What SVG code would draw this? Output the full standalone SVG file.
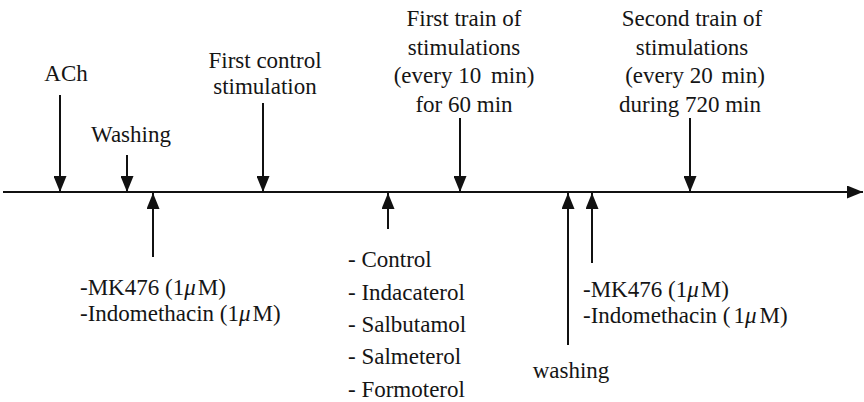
<svg xmlns="http://www.w3.org/2000/svg" width="864" height="402" viewBox="0 0 864 402">
  <style>
    text { font-family: "Liberation Serif", "Times New Roman", serif; font-size: 23px; fill: #151515; }
    .c { text-anchor: middle; }
    .mu { font-style: italic; }
    .ln { stroke: #111; stroke-width: 2; fill: none; }
  </style>
  <defs>
    <marker id="ah" markerUnits="userSpaceOnUse" markerWidth="16" markerHeight="13" refX="16" refY="6.5" orient="auto">
      <path d="M0,0 L16,6.5 L0,13 Z" fill="#111"/>
    </marker>
  </defs>
  <rect width="864" height="402" fill="#fff"/>

  <g id="connectors">
    <line id="axis" class="ln" x1="3" y1="192" x2="863" y2="192" marker-end="url(#ah)"/>
    <line class="ln" x1="60" y1="95" x2="60" y2="192" marker-end="url(#ah)"/>
    <line class="ln" x1="127" y1="155" x2="127" y2="192" marker-end="url(#ah)"/>
    <line class="ln" x1="263" y1="103" x2="263" y2="192" marker-end="url(#ah)"/>
    <line class="ln" x1="460" y1="118" x2="460" y2="192" marker-end="url(#ah)"/>
    <line class="ln" x1="690" y1="118" x2="690" y2="192" marker-end="url(#ah)"/>
    <line class="ln" x1="153" y1="257" x2="153" y2="193" marker-end="url(#ah)"/>
    <line class="ln" x1="388" y1="229" x2="388" y2="193" marker-end="url(#ah)"/>
    <line class="ln" x1="568" y1="345" x2="568" y2="193" marker-end="url(#ah)"/>
    <line class="ln" x1="592" y1="263" x2="592" y2="193" marker-end="url(#ah)"/>
  </g>

  <g id="ach">
    <text class="c" x="66" y="81">ACh</text>
  </g>
  <g id="washing1">
    <text class="c" x="131" y="142">Washing</text>
  </g>
  <g id="first-control">
    <text class="c" x="265" y="68">First control</text>
    <text class="c" x="265" y="94">stimulation</text>
  </g>
  <g id="first-train">
    <text class="c" x="464" y="26">First train of</text>
    <text class="c" x="464" y="55">stimulations</text>
    <text class="c" x="464" y="83">(every 10<tspan dx="4"> min)</tspan></text>
    <text class="c" x="464" y="112">for 60 min</text>
  </g>
  <g id="second-train">
    <text class="c" x="692" y="26">Second train of</text>
    <text class="c" x="692" y="55">stimulations</text>
    <text class="c" x="695" y="83">(every 20<tspan dx="3"> min)</tspan></text>
    <text class="c" x="690" y="112">during 720 min</text>
  </g>
  <g id="inhibitors1">
    <text x="80" y="295">-MK476 (1<tspan class="mu">μ</tspan><tspan dx="2">M)</tspan></text>
    <text x="80" y="321">-Indomethacin (1<tspan class="mu">μ</tspan><tspan dx="2">M)</tspan></text>
  </g>
  <g id="treatments">
    <text x="348" y="267">- Control</text>
    <text x="348" y="300">- Indacaterol</text>
    <text x="348" y="332">- Salbutamol</text>
    <text x="348" y="364">- Salmeterol</text>
    <text x="348" y="397">- Formoterol</text>
  </g>
  <g id="washing2">
    <text class="c" x="571" y="378">washing</text>
  </g>
  <g id="inhibitors2">
    <text x="583" y="297">-MK476 (1<tspan class="mu">μ</tspan><tspan dx="2">M)</tspan></text>
    <text x="583" y="323">-Indomethacin (<tspan dx="3">1</tspan><tspan class="mu">μ</tspan><tspan dx="3">M)</tspan></text>
  </g>
</svg>
